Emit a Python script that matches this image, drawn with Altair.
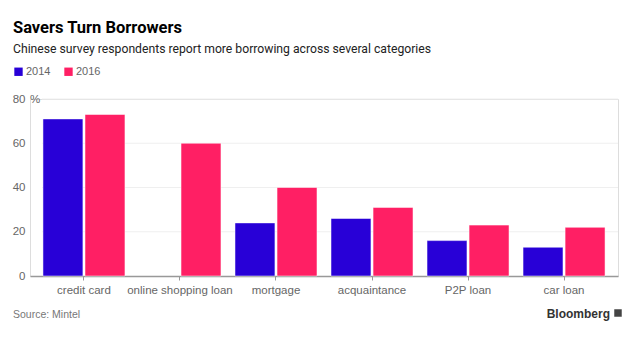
import altair as alt
import pandas as pd

categories = ["credit card", "online shopping loan", "mortgage", "acquaintance", "P2P loan", "car loan"]
values_2014 = [71, None, 24, 26, 16, 13]
values_2016 = [73, 60, 40, 31, 23, 22]
years = ["2014", "2016"]
y_ticks = [0, 20, 40, 60, 80]
grid_vals = [20, 40, 60, 80]

rows = []
for c, a, b in zip(categories, values_2014, values_2016):
    rows.append({"category": c, "year": "2014", "value": a})
    rows.append({"category": c, "year": "2016", "value": b})
df = pd.DataFrame(rows)
df = df.dropna()

FONT = "Liberation Sans"
TFONT = "Roboto"
W, H = 588, 177

grid = alt.Chart(pd.DataFrame({"v": grid_vals})).mark_rule(color="#efefef", strokeWidth=1).encode(
    y=alt.Y("v:Q", scale=alt.Scale(domain=[0, 80])),
    x=alt.value(12),
    x2=alt.value(W),
)

bars = alt.Chart(df).mark_bar(stroke="white", strokeWidth=0.5).encode(
    x=alt.X("category:N", sort=categories, title=None,
            scale=alt.Scale(paddingInner=0.146, paddingOuter=0.135),
            axis=alt.Axis(labelAngle=0, labelFont=FONT, labelFontSize=11.5, labelColor="#666666",
                          domainColor="#999999", tickColor="#999999", tickSize=4,
                          labelPadding=4, domainWidth=1.5)),
    xOffset=alt.XOffset("year:N", sort=years, scale=alt.Scale(paddingInner=0.05)),
    y=alt.Y("value:Q", title=None, scale=alt.Scale(domain=[0, 80]),
            axis=alt.Axis(values=y_ticks, grid=False, domain=False, ticks=False,
                          labelFont=FONT, labelFontSize=11.5, labelColor="#666666", labelPadding=5)),
    color=alt.Color("year:N", sort=years,
                    scale=alt.Scale(domain=years, range=["#2800d7", "#ff1f64"]),
                    legend=alt.Legend(title=None, orient="none", legendX=-17, legendY=-33,
                                      direction="horizontal", symbolType="square", symbolSize=70,
                                      symbolStrokeWidth=0, labelFont=FONT, labelFontSize=11,
                                      labelColor="#666666", columnPadding=12, labelOffset=2)),
)

pct = alt.Chart(pd.DataFrame({"v": [80], "t": ["%"]})).mark_text(
    align="left", baseline="middle", font=FONT, fontSize=11.5, color="#666666", dy=1
).encode(y=alt.Y("v:Q"), x=alt.value(0), text="t:N")

title = alt.Chart(pd.DataFrame({"t": ["Savers Turn Borrowers"]})).mark_text(
    align="left", baseline="alphabetic", font=TFONT, fontSize=16.5, fontWeight="bold", color="#000000"
).encode(x=alt.value(-17), y=alt.value(-66), text="t:N")

subtitle = alt.Chart(pd.DataFrame({"t": ["Chinese survey respondents report more borrowing across several categories"]})).mark_text(
    align="left", baseline="alphabetic", font=TFONT, fontSize=12.2, color="#222222"
).encode(x=alt.value(-17), y=alt.value(-46), text="t:N")

source = alt.Chart(pd.DataFrame({"t": ["Source: Mintel"]})).mark_text(
    align="left", baseline="alphabetic", font=FONT, fontSize=10.5, color="#777777"
).encode(x=alt.value(-17), y=alt.value(219), text="t:N")

brand = alt.Chart(pd.DataFrame({"t": ["Bloomberg"]})).mark_text(
    align="right", baseline="alphabetic", font=FONT, fontSize=12, fontWeight="bold", color="#333333"
).encode(x=alt.value(580), y=alt.value(219), text="t:N")

logo = alt.Chart(pd.DataFrame({"t": ["logo"]})).mark_square(size=56, color="#444444", opacity=1).encode(
    x=alt.value(588), y=alt.value(214)
)

chart = alt.layer(grid, bars, pct, title, subtitle, source, brand, logo).properties(
    width=W, height=H,
    autosize=alt.AutoSizeParams(type="none"),
    padding={"left": 30, "top": 99, "right": 22, "bottom": 62},
).configure_view(stroke=None).configure(background="white")

chart.save("out.html", embed_options={"renderer": "svg", "actions": False})
